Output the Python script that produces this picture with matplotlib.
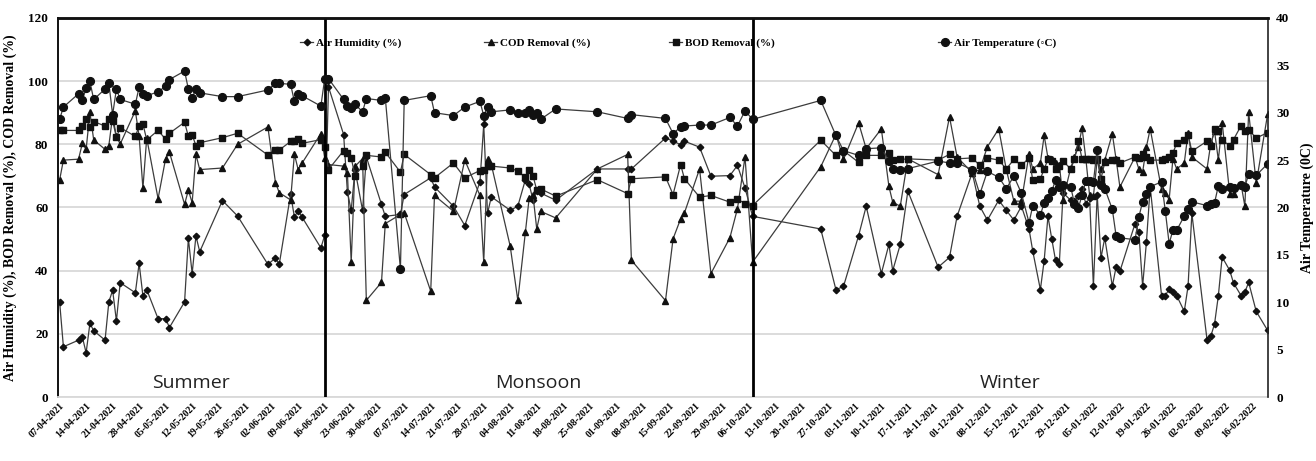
import numpy as np
import pandas as pd
import matplotlib
matplotlib.use('Agg')
import matplotlib.pyplot as plt
import matplotlib.dates as mdates
from matplotlib.lines import Line2D

# sampling days counted from the first sample (07-04-2021)
start = pd.Timestamp('2021-04-07')
sample_day = [0, 1, 5, 6, 7, 8, 9, 12, 13, 14, 15, 16, 20, 21, 22, 23, 26, 28, 29, 33,
              34, 35, 36, 37, 43, 47, 55, 57, 58, 61, 62, 63, 64, 69, 70, 71,
              75, 76, 77, 78, 80, 81, 85, 86, 90, 91, 98, 99, 104, 107, 111, 112, 113, 114,
              119, 121, 123, 124, 125, 126, 127, 131, 142, 150, 151, 160, 162, 164, 165,
              169, 172, 177, 179, 181, 183,
              201, 205, 207, 211, 213, 217, 219, 220, 222, 224, 232, 235, 237, 241, 243,
              245, 248, 250, 252, 254, 256, 257, 259, 260, 261, 262, 263, 264, 265, 267,
              268, 269, 270, 271, 272, 273, 274, 275, 276, 278, 279, 280, 284, 285, 286,
              287, 288, 291, 292, 293, 294, 295, 297, 298, 299, 303, 304, 305, 306, 307,
              309, 310, 312, 313, 314, 316, 319]

humidity = [30.1, 15.9, 18.0, 19.0, 14.0, 23.3, 21.0, 18.0, 30.1, 33.8, 24.1, 36.2, 33.0, 42.3, 32.0, 34.0,
            24.8, 24.8, 22.0, 30.1, 50.2, 39.1, 51.0, 46.0, 62.2, 57.3, 42.0, 44.0, 42.0, 64.2, 57.0,
            59.0, 57.0, 47.2, 51.2, 98.2,
            83.1, 64.9, 59.1, 72.0, 59.1, 76.0, 61.0, 57.2, 57.8, 64.1, 69.4, 66.5, 60.4, 54.3, 68.1,
            86.3, 58.1, 63.4, 59.1, 60.4, 68.8, 67.3, 62.5, 65.2, 64.6, 62.3, 72.2, 72.2, 72.2, 82.0,
            81.0, 79.9, 81.0, 79.1, 69.9, 70.1, 73.3, 66.2, 57.2,
            53.2, 34.0, 35.0, 51.1, 60.4, 39.1, 48.3, 40.0, 48.3, 65.2, 41.1, 44.2, 57.2, 71.0, 60.4,
            56.0, 62.3, 59.1, 56.0, 60.4, 53.2, 46.1, 34.0, 43.2, 57.2, 50.1, 43.3, 42.2, 64.6, 62.3,
            62.0, 63.6, 65.7, 61.2, 63.0, 35.1, 64.1, 44.0, 50.4, 35.1, 41.2, 39.8, 54.9, 52.2, 35.1,
            49.0, 66.5, 32.1, 32.1, 34.2, 33.2, 32.1, 27.1, 35.1, 58.1, 18.2, 19.2, 23.2, 32.1, 44.3,
            40.1, 36.1, 32.1, 33.2, 36.3, 27.1, 21.1]

cod_removal = [68.7, 75.0, 75.3, 80.3, 78.4, 90.1, 81.4, 78.4, 79.6, 89.0, 82.5, 80.1, 90.6, 82.5, 66.1,
               82.0, 62.8, 75.5, 77.5, 61.0, 65.5, 61.5, 76.8, 72.0, 72.5, 80.0, 85.5, 67.9, 64.7,
               62.4, 76.9, 72.0, 74.0, 83.4, 75.7, 73.6,
               73.1, 71.0, 42.7, 73.0, 75.5, 30.6, 36.3, 54.9, 57.8, 58.3, 33.5, 63.8, 58.8, 75.0,
               63.8, 42.7, 75.4, 73.6, 47.7, 30.6, 52.2, 63.0, 64.0, 53.2, 58.8, 56.7, 72.2, 76.8,
               43.3, 30.5, 50.1, 56.4, 58.3, 72.2, 39.1, 50.4, 59.6, 76.0, 42.7,
               72.9, 83.1, 75.2, 86.8, 78.6, 84.9, 66.7, 61.7, 60.4, 75.4, 70.4, 88.7, 76.0, 71.0,
               72.0, 79.2, 84.9, 72.0, 62.0, 62.0, 76.8, 72.2, 74.1, 82.8, 75.7, 75.2, 74.0, 73.6,
               62.5, 72.5, 76.0, 79.0, 85.2, 75.5, 63.8, 63.6, 75.0, 72.2, 75.0, 83.3, 75.2, 66.5,
               76.0, 72.2, 71.2, 79.2, 84.9, 65.7, 64.6, 62.5, 75.4, 72.2, 74.1, 83.6, 76.0, 72.2,
               80.3, 84.1, 75.0, 86.9, 64.4, 64.4, 67.3, 60.4, 90.2, 67.7, 89.5]

bod_removal = [84.4, 84.4, 84.4, 85.8, 88.0, 85.4, 87.2, 85.8, 88.0, 87.5, 82.2, 85.3, 82.5, 85.8, 86.5,
               81.4, 84.4, 81.6, 83.5, 87.0, 82.5, 83.0, 79.6, 80.5, 82.1, 83.5, 76.6, 78.2, 78.2,
               80.9, 80.9, 81.6, 80.3, 81.5, 79.2, 72.0,
               78.0, 77.3, 75.7, 70.1, 73.1, 76.5, 76.0, 77.5, 71.2, 76.8, 70.4, 69.4, 74.1, 69.4,
               71.7, 71.8, 73.1, 73.1, 72.5, 71.5, 69.5, 72.0, 70.1, 65.5, 65.9, 63.6, 68.8, 64.4,
               69.1, 69.7, 64.1, 73.6, 69.1, 63.3, 63.8, 61.7, 62.7, 61.2, 60.6,
               81.3, 76.5, 78.0, 74.3, 76.5, 76.5, 77.1, 75.0, 75.2, 75.4, 75.0, 76.8, 75.4, 75.7,
               73.3, 75.7, 75.0, 72.2, 75.2, 73.3, 75.7, 68.6, 69.1, 72.2, 75.2, 74.7, 72.2, 73.1,
               74.7, 72.2, 75.2, 81.0, 75.4, 75.4, 75.4, 75.0, 75.4, 69.1, 74.3, 75.0, 75.0, 74.1,
               76.0, 75.7, 76.8, 76.0, 75.0, 75.0, 75.4, 76.0, 77.3, 80.3, 81.5, 83.1, 77.8, 81.0,
               79.6, 84.9, 84.1, 81.3, 79.6, 81.5, 85.9, 84.1, 84.6, 82.0, 83.7]

air_temperature = [29.3, 30.6, 32.0, 31.3, 32.6, 33.3, 31.4, 32.5, 33.1, 29.8, 32.5, 31.4, 30.9, 32.7,
                   32.0, 31.8, 32.2, 32.8, 33.5, 34.4, 32.5, 31.6, 32.5, 32.1, 31.7, 31.7, 32.4, 33.1,
                   33.1, 33.0, 31.2, 32.0, 31.8, 30.7, 33.6, 33.6,
                   31.4, 30.7, 30.5, 30.9, 30.1, 31.5, 31.3, 31.6, 13.5, 31.3, 31.8, 30.0, 29.7, 30.6,
                   31.2, 29.7, 30.6, 30.1, 30.3, 30.0, 30.0, 30.3, 29.8, 30.0, 29.3, 30.4, 30.1, 29.4,
                   29.8, 29.4, 27.8, 28.5, 28.6, 28.7, 28.7, 29.5, 28.6, 30.2, 29.3,
                   31.3, 27.6, 26.0, 25.5, 26.2, 26.3, 24.9, 24.1, 24.0, 24.1, 24.9, 24.7, 24.7, 24.0,
                   21.4, 23.8, 23.2, 22.0, 23.3, 21.5, 18.4, 20.2, 19.2, 20.5, 21.0, 21.7, 22.9, 22.2,
                   22.4, 22.2, 20.4, 19.9, 21.3, 22.8, 22.8, 22.7, 26.1, 22.4, 22.0, 19.8, 17.0, 16.8,
                   16.6, 19.0, 20.6, 21.4, 22.2, 22.7, 19.6, 16.2, 17.6, 17.6, 19.1, 19.8, 20.6, 20.2,
                   20.4, 20.5, 22.3, 22.0, 22.2, 22.1, 22.4, 22.2, 23.5, 23.4, 24.6]

seasons = ['Summer', 'Monsoon', 'Winter']
season_breaks = ['2021-06-16', '2021-10-07']
last_tick = '2022-02-16'

dates = start + pd.to_timedelta(sample_day, unit='D')

plt.rcParams['font.family'] = ['Liberation Serif', 'DejaVu Serif']
plt.rcParams['font.weight'] = 'bold'

fig = plt.figure(figsize=(13.16, 4.61), dpi=100)
ax = fig.add_subplot(111)
fig.subplots_adjust(left=0.0441, right=0.9635, bottom=0.1388, top=0.961)
ax2 = ax.twinx()

line_col = '#3c3c3c'
mk = dict(color=line_col, lw=0.9, markerfacecolor='#111111', markeredgecolor='#111111')
h_hum, = ax.plot(dates, humidity, marker='D', ms=3.3, **mk)
h_cod, = ax.plot(dates, cod_removal, marker='^', ms=4.6, **mk)
h_bod, = ax.plot(dates, bod_removal, marker='s', ms=4.8, **mk)
h_tmp, = ax2.plot(dates, air_temperature, marker='o', ms=5.6, **mk)

x0 = start - pd.Timedelta(hours=10)
x1 = start + pd.Timedelta(days=319.1)
ax.set_xlim(x0, x1)
ax.set_ylim(0, 120)
ax.set_yticks(np.arange(0, 121, 20))
ax2.set_ylim(0, 40)
ax2.set_yticks(np.arange(0, 41, 5))

ax.set_xticks(pd.date_range(start, last_tick, freq='7D'))
ax.xaxis.set_major_formatter(mdates.DateFormatter('%d-%m-%Y'))
for lab in ax.get_xticklabels():
    lab.set_rotation(45)
    lab.set_ha('right')
    lab.set_rotation_mode('anchor')
    lab.set_fontsize(7)
    lab.set_fontweight('bold')

ax.yaxis.grid(True, color='#d9d9d9', lw=1.3)
ax.set_axisbelow(True)
ax.tick_params(axis='both', length=0)
ax.tick_params(axis='y', labelsize=9.5, pad=7)
ax.tick_params(axis='x', pad=3)
ax2.tick_params(axis='y', length=0, labelsize=9.5, pad=6)

ax.spines['top'].set_color('#111111')
ax.spines['top'].set_linewidth(1.8)
ax.spines['left'].set_color('#111111')
ax.spines['left'].set_linewidth(1.4)
ax.spines['bottom'].set_color('#d9d9d9')
ax.spines['bottom'].set_linewidth(1.3)
ax.spines['right'].set_visible(False)
ax2.spines['left'].set_visible(False)
ax2.spines['bottom'].set_visible(False)
ax2.spines['top'].set_color('#111111')
ax2.spines['top'].set_linewidth(1.8)
ax2.spines['right'].set_color('#222222')
ax2.spines['right'].set_linewidth(1.2)

ax.set_ylabel('Air Humidity (%), BOD Removal (%), COD Removal (%)', fontsize=10,
              fontweight='bold', labelpad=8)
ax2.set_ylabel('Air Temperature (0C)', fontsize=10, fontweight='bold', labelpad=8)

# season separators and names
for b in season_breaks:
    ax.axvline(pd.Timestamp(b), color='#000000', lw=2.0, zorder=5)
edges = [x0] + [pd.Timestamp(b) for b in season_breaks] + [x1]
for name, a, b in zip(seasons, edges[:-1], edges[1:]):
    ax.text(a + (b - a) / 2, 4.4, name, ha='center', va='center', fontsize=14,
            fontweight='normal', family=['Open Sans', 'DejaVu Sans'], color='#222222')

# one row of legend entries along the top
handles = [h_hum, h_cod, h_bod, h_tmp]
labels = ['Air Humidity (%)', 'COD Removal (%)', 'BOD Removal (%)', 'Air Temperature (\u25e6C)']
legend_x = [300, 484, 669, 938]
for h, lab, lx in zip(handles, labels, legend_x):
    fig.legend([h], [lab], loc='center left', bbox_to_anchor=(lx / 1316, 1 - 43 / 461),
               frameon=False, handlelength=1.2, handletextpad=0.25, borderpad=0,
               borderaxespad=0, prop={'size': 8, 'weight': 'bold'})

fig.savefig('out.png', dpi=100)
